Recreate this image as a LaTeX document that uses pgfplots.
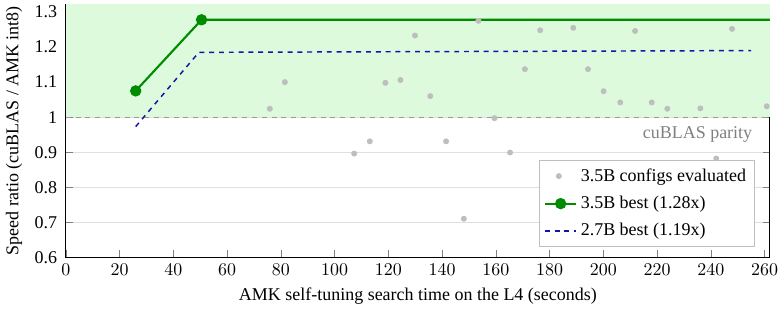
\documentclass[border=0pt]{standalone}
\usepackage{fontspec}
\setmainfont{Liberation Serif}
\usepackage{pgfplots}
\pgfplotsset{compat=1.18}

\definecolor{paritybg}{RGB}{221,250,221}
\definecolor{bestgreen}{RGB}{0,140,0}
\definecolor{bestblue}{RGB}{20,20,170}
\definecolor{cfggray}{RGB}{190,190,190}

\newcommand{\plotfont}{\fontsize{11}{13.2}\selectfont}

\begin{document}
\plotfont
\begin{tikzpicture}
\begin{axis}[
  scale only axis,
  width=431pt, height=155pt,
  xmin=0, xmax=262,
  ymin=0.6, ymax=1.323,
  xtick={0,20,...,260},
  ytick={0.6,0.7,...,1.3},
  yticklabels={0.6,0.7,0.8,0.9,1,1.1,1.2,1.3},
  tick align=inside,
  ymajorgrids,
  grid style={gray!25, line width=0.5pt},
  axis line style={line width=0.6pt},
  xlabel={AMK self-tuning search time on the L4 (seconds)},
  ylabel={Speed ratio (cuBLAS / AMK int8)},
  tick label style={font=\plotfont},
  yticklabel style={xshift=-1.5pt},
  label style={font=\plotfont},
  legend style={at={(0.978,0.04)}, anchor=south east, draw=gray!50,
    font=\plotfont, row sep=3.5pt, inner ysep=3pt},
  legend cell align=left,
]
% region where AMK beats cuBLAS
\addplot[draw=none, fill=paritybg, forget plot] coordinates {(0,1) (262,1) (262,1.323) (0,1.323)} -- cycle;
% parity reference
\addplot[gray!80, dashed, line width=0.7pt, forget plot] coordinates {(0,1) (262,1)};
\node[anchor=north east, text=gray, inner sep=0pt] at (axis cs:255.5,0.975) {cuBLAS parity};

% every configuration evaluated for the 3.5B model
\addplot[only marks, mark=*, mark size=1.6pt, color=cfggray, mark options={draw=cfggray, fill=cfggray}]
  coordinates {
  (75.9,1.024) (81.5,1.100) (107.3,0.896) (113.1,0.931) (118.9,1.098)
  (124.5,1.106) (129.9,1.233) (135.6,1.060) (141.5,0.931) (148.1,0.710)
  (153.5,1.275) (159.5,0.997) (165.3,0.899) (170.8,1.137) (176.5,1.248)
  (183.3,0.668) (188.8,1.255) (194.3,1.137) (200.1,1.074) (206.3,1.042)
  (211.8,1.246) (218.0,1.042) (223.8,1.024) (236.1,1.025) (242.0,0.882)
  (247.9,1.252) (255.0,0.665) (260.8,1.031)
  };
\addlegendentry{3.5B configs evaluated}

% best so far, 3.5B
\addplot[color=bestgreen, line width=1.3pt, mark=*, mark size=2.8pt,
  mark options={fill=bestgreen, draw=bestgreen}, mark indices={1,2},
  legend image code/.code={
    \draw[mark indices={2}] plot coordinates {(0cm,0cm) (0.34cm,0cm) (0.68cm,0cm)};}]
  coordinates {(26,1.075) (50.5,1.278) (262,1.278)};
\addlegendentry{3.5B best (1.28x)}

% best so far, 2.7B
\addplot[color=bestblue, dashed, line width=0.9pt,
  legend image code/.code={
    \draw plot coordinates {(0cm,0cm) (0.68cm,0cm)};}]
  coordinates {(26,0.973) (49.5,1.185) (255,1.19)};
\addlegendentry{2.7B best (1.19x)}
\end{axis}
\end{tikzpicture}
\end{document}
